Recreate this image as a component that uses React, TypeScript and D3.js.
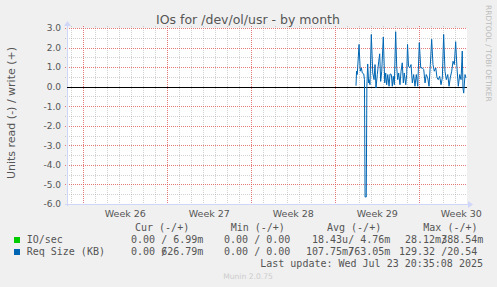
import React from "react";
import * as d3 from "d3";

// ---- data ----
const TITLE = "IOs for /dev/ol/usr - by month";
const Y_LABEL = "Units read (-) / write (+)";
const WATERMARK = "RRDTOOL / TOBI OETIKER";
const Y_TICKS = [3, 2, 1, 0, -1, -2, -3, -4, -5, -6];
const WEEK_STARTS = [0, 7, 14, 21, 28]; // days since week 26 start
const WEEK_LABELS = ["Week 26", "Week 27", "Week 28", "Week 29", "Week 30"];

// Req Size (KB): sample time (days since Week 26 start) and value
const REQ_DAYS = [
  22.725, 22.77, 22.83, 22.98, 23.08, 23.17, 23.25, 23.37, 23.43, 23.48, 23.58, 23.63,
  23.7, 23.78, 23.81, 23.89, 24.0, 24.12, 24.23, 24.31, 24.39, 24.5, 24.62, 24.7,
  24.78, 24.87, 25.0, 25.12, 25.2, 25.28, 25.37, 25.48, 25.56, 25.67, 25.75, 25.83,
  25.92, 26.03, 26.12, 26.2, 26.28, 26.39, 26.48, 26.58, 26.67, 26.75, 26.87, 26.95,
  27.02, 27.1, 27.2, 27.31, 27.42, 27.53, 27.64, 27.75, 27.87, 28.0, 28.12, 28.25,
  28.37, 28.48, 28.58, 28.7, 28.81, 28.92, 29.03, 29.14, 29.25, 29.37, 29.48, 29.58,
  29.7, 29.81, 29.92, 30.03, 30.14, 30.25, 30.37, 30.48, 30.58, 30.7, 30.81, 30.92,
  31.03, 31.14, 31.25, 31.37, 31.48, 31.58, 31.64, 31.7, 31.81, 31.89,
];
const REQ_VALUES = [
  0.05, 0.79, 0.62, 2.16, 0.79, 0.96, 0.7, 0.65, 0.36, -5.64, -5.64, 0.0,
  1.16, 0.19, 0.36, 0.1, 2.67, 0.7, 0.36, 1.13, -0.07, 0.62, 1.3, 1.68,
  0.27, 0.79, 2.54, 0.19, 0.7, 0.1, 0.62, 0.02, 0.65, 0.62, 0.02, 0.53,
  0.1, 2.81, 0.96, 0.36, 0.7, 0.1, 0.79, 1.22, 0.19, 0.7, 0.1, 0.62,
  2.16, 1.05, 0.96, 1.13, 0.19, 0.62, 0.02, 0.62, 0.02, 2.25, 0.96, 0.96,
  0.87, 0.19, 0.62, 0.45, 0.02, 1.13, 2.42, 1.13, 0.79, 0.96, 0.45, 0.36,
  0.53, 0.1, 0.45, 2.67, 0.79, 0.36, 0.62, 0.02, 0.45, 0.79, 1.3, 1.13,
  2.3, 0.96, 0.02, 0.62, 0.36, 1.82, -0.07, -0.33, 0.62, 0.45,
];

const LEGEND_NAMES = ["IO/sec", "Req Size (KB)"];
const LEGEND_COLORS = ["#00cc00", "#0066b3"];
const LEGEND_HEADERS = ["Cur (-/+)", "Min (-/+)", "Avg (-/+)", "Max (-/+)"];
const CUR_NEG = ["0.00", "0.00"];
const CUR_POS = ["6.99m", "626.79m"];
const MIN_NEG = ["0.00", "0.00"];
const MIN_POS = ["0.00", "0.00"];
const AVG_NEG = ["18.43u", "107.75m"];
const AVG_POS = ["4.76m", "763.05m"];
const MAX_NEG = ["28.12m", "129.32"];
const MAX_POS = ["388.54m", "20.54"];
const LAST_UPDATE = "Last update: Wed Jul 23 20:35:08 2025";
const VERSION = "Munin 2.0.75";

// ---- layout ----
const W = 497;
const H = 287;
const PL = 67;
const PR = 467;
const PT = 28;
const PB = 204;
const DAY_MIN = (PL - 83.3) / 12;
const DAY_MAX = (PR - 83.3) / 12;

const FONT = "'DejaVu Sans', Verdana, sans-serif";
const MONO = "'DejaVu Sans Mono', monospace";
const TXT = "#555";
const AXIS = "#CFD6F8";
const CW = 6.02;
const GRID = "rgba(143,143,143,0.4)";
const MGRID = "rgba(222,79,79,0.75)";

function field(s: string) {
  const m = s.match(/^([-0-9.]+)([a-zA-Z]?)$/);
  const num = m ? m[1] : s;
  const unit = m && m[2] ? m[2] : " ";
  return num.padStart(6, " ") + unit;
}

export default function App() {
  const x = d3.scaleLinear().domain([DAY_MIN, DAY_MAX]).range([PL, PR]);
  const y = d3.scaleLinear().domain([-6, 3]).range([PB, PT]);

  const pts: [number, number][] = REQ_DAYS.map((d, i) => [d, REQ_VALUES[i]]);
  const line = d3
    .line<[number, number]>()
    .x((d) => x(d[0]))
    .y((d) => y(d[1]));

  const minorDays = d3.range(Math.ceil(DAY_MIN), Math.floor(DAY_MAX) + 1).filter((d) => d % 7 !== 0);
  const minorY = d3.range(-5.5, 3, 1);
  const majorY = Y_TICKS.filter((v) => v !== 0 && v !== -6);

  const colStarts = [119, 212, 306, 399];
  const headerX = [135, 230.7, 327, 423.3];
  const cols = [
    [CUR_NEG, CUR_POS],
    [MIN_NEG, MIN_POS],
    [AVG_NEG, AVG_POS],
    [MAX_NEG, MAX_POS],
  ];
  const rowY = [243.3, 255.3];

  return (
    <div style={{ position: "absolute", left: 0, top: 0 }}>
      <svg width={W} height={H} viewBox={`0 0 ${W} ${H}`} style={{ display: "block" }}>
        <rect x={0} y={0} width={W} height={H} fill="#f0f0f0" />
        <rect x={PL} y={PT} width={PR - PL} height={PB - PT} fill="#ffffff" />

        {/* minor grid */}
        {minorDays.map((d) => (
          <line key={"mv" + d} x1={Math.round(x(d)) + 0.5} x2={Math.round(x(d)) + 0.5} y1={PT - 2} y2={PB + 2}
            stroke={GRID} strokeDasharray="1,1" />
        ))}
        {minorY.map((v) => (
          <line key={"mh" + v} x1={PL - 2} x2={PR} y1={Math.round(y(v)) + 0.5} y2={Math.round(y(v)) + 0.5}
            stroke={GRID} strokeDasharray="1,1" />
        ))}
        {/* major grid */}
        {WEEK_STARTS.map((d) => (
          <line key={"Mv" + d} x1={Math.round(x(d)) + 0.5} x2={Math.round(x(d)) + 0.5} y1={PT - 2} y2={PB + 2}
            stroke={MGRID} strokeDasharray="1,1" />
        ))}
        {majorY.map((v) => (
          <line key={"Mh" + v} x1={PL - 2} x2={PR} y1={Math.round(y(v)) + 0.5} y2={Math.round(y(v)) + 0.5}
            stroke={MGRID} strokeDasharray="1,1" />
        ))}

        {/* axes */}
        <line x1={PL - 2} x2={PR + 2} y1={PB + 0.5} y2={PB + 0.5} stroke={AXIS} />
        <line x1={PL + 0.5} x2={PL + 0.5} y1={PB + 2} y2={PT - 3} stroke={AXIS} />
        <path d={`M${PR + 1},${PB - 3} L${PR + 6},${PB + 0.5} L${PR + 1},${PB + 4} Z`} fill={AXIS} />
        <path d={`M${PL - 3},${PT - 2} L${PL + 0.5},${PT - 7} L${PL + 4},${PT - 2} Z`} fill={AXIS} />

        {/* zero line */}
        <line x1={PL} x2={PR} y1={Math.round(y(0)) + 0.5} y2={Math.round(y(0)) + 0.5} stroke="#000" />

        {/* data */}
        <path d={line(pts) || ""} fill="none" stroke="#0066b3" strokeWidth={1} />

        {/* y ticks */}
        {Y_TICKS.map((v) => (
          <text key={"yt" + v} x={61} y={y(v) + 3.3} textAnchor="end" fontFamily={FONT} fontSize={9} fill={TXT}>
            {v.toFixed(1)}
          </text>
        ))}
        {/* x labels */}
        {WEEK_STARTS.map((d, i) => (
          <text key={"xl" + d} x={x(d + 3.5)} y={216.7} textAnchor="middle" fontFamily={FONT} fontSize={9.5} fill={TXT}>
            {WEEK_LABELS[i]}
          </text>
        ))}

        {/* title */}
        <text x={248} y={24} textAnchor="middle" fontFamily={FONT} fontSize={12.5} fill={TXT}>
          {TITLE}
        </text>
        {/* y label */}
        <text transform="translate(15.3,113) rotate(-90)" textAnchor="middle" fontFamily={FONT} fontSize={11} fill={TXT}>
          {Y_LABEL}
        </text>
        {/* watermark */}
        <text transform="translate(485.5,5) rotate(90)" textAnchor="start" fontFamily={FONT} fontSize={7.5} fill="#bbb">
          {WATERMARK}
        </text>

        {/* legend */}
        {LEGEND_HEADERS.map((h, i) => (
          <text key={"lh" + i} x={headerX[i]} y={230.7} fontFamily={MONO} fontSize={10} fill={TXT} style={{ whiteSpace: "pre" }}>
            {h}
          </text>
        ))}
        {LEGEND_NAMES.map((name, r) => (
          <g key={"lr" + r}>
            <rect x={14} y={rowY[r] - 6.3} width={6} height={6} fill={LEGEND_COLORS[r]} />
            <text x={26.7} y={rowY[r]} fontFamily={MONO} fontSize={10} fill={TXT} style={{ whiteSpace: "pre" }}>
              {name}
            </text>
            {cols.map(([neg, pos], c) => (
              <g key={"c" + c}>
                <text x={colStarts[c]} y={rowY[r]} fontFamily={MONO} fontSize={10} fill={TXT} style={{ whiteSpace: "pre" }} xmlSpace="preserve">
                  {field(neg[r])}
                </text>
                <text x={colStarts[c] + 7 * CW} y={rowY[r]} fontFamily={MONO} fontSize={10} fill={TXT}>
                  /
                </text>
                <text x={colStarts[c] + 7 * CW} y={rowY[r]} fontFamily={MONO} fontSize={10} fill={TXT} style={{ whiteSpace: "pre" }} xmlSpace="preserve">
                  {field(pos[r])}
                </text>
              </g>
            ))}
          </g>
        ))}
        <text x={483} y={266.7} textAnchor="end" fontFamily={MONO} fontSize={10} fill={TXT} style={{ whiteSpace: "pre" }}>
          {LAST_UPDATE}
        </text>
        <text x={248} y={278.7} textAnchor="middle" fontFamily={FONT} fontSize={7.6} fill="#ccc">
          {VERSION}
        </text>
      </svg>
    </div>
  );
}
